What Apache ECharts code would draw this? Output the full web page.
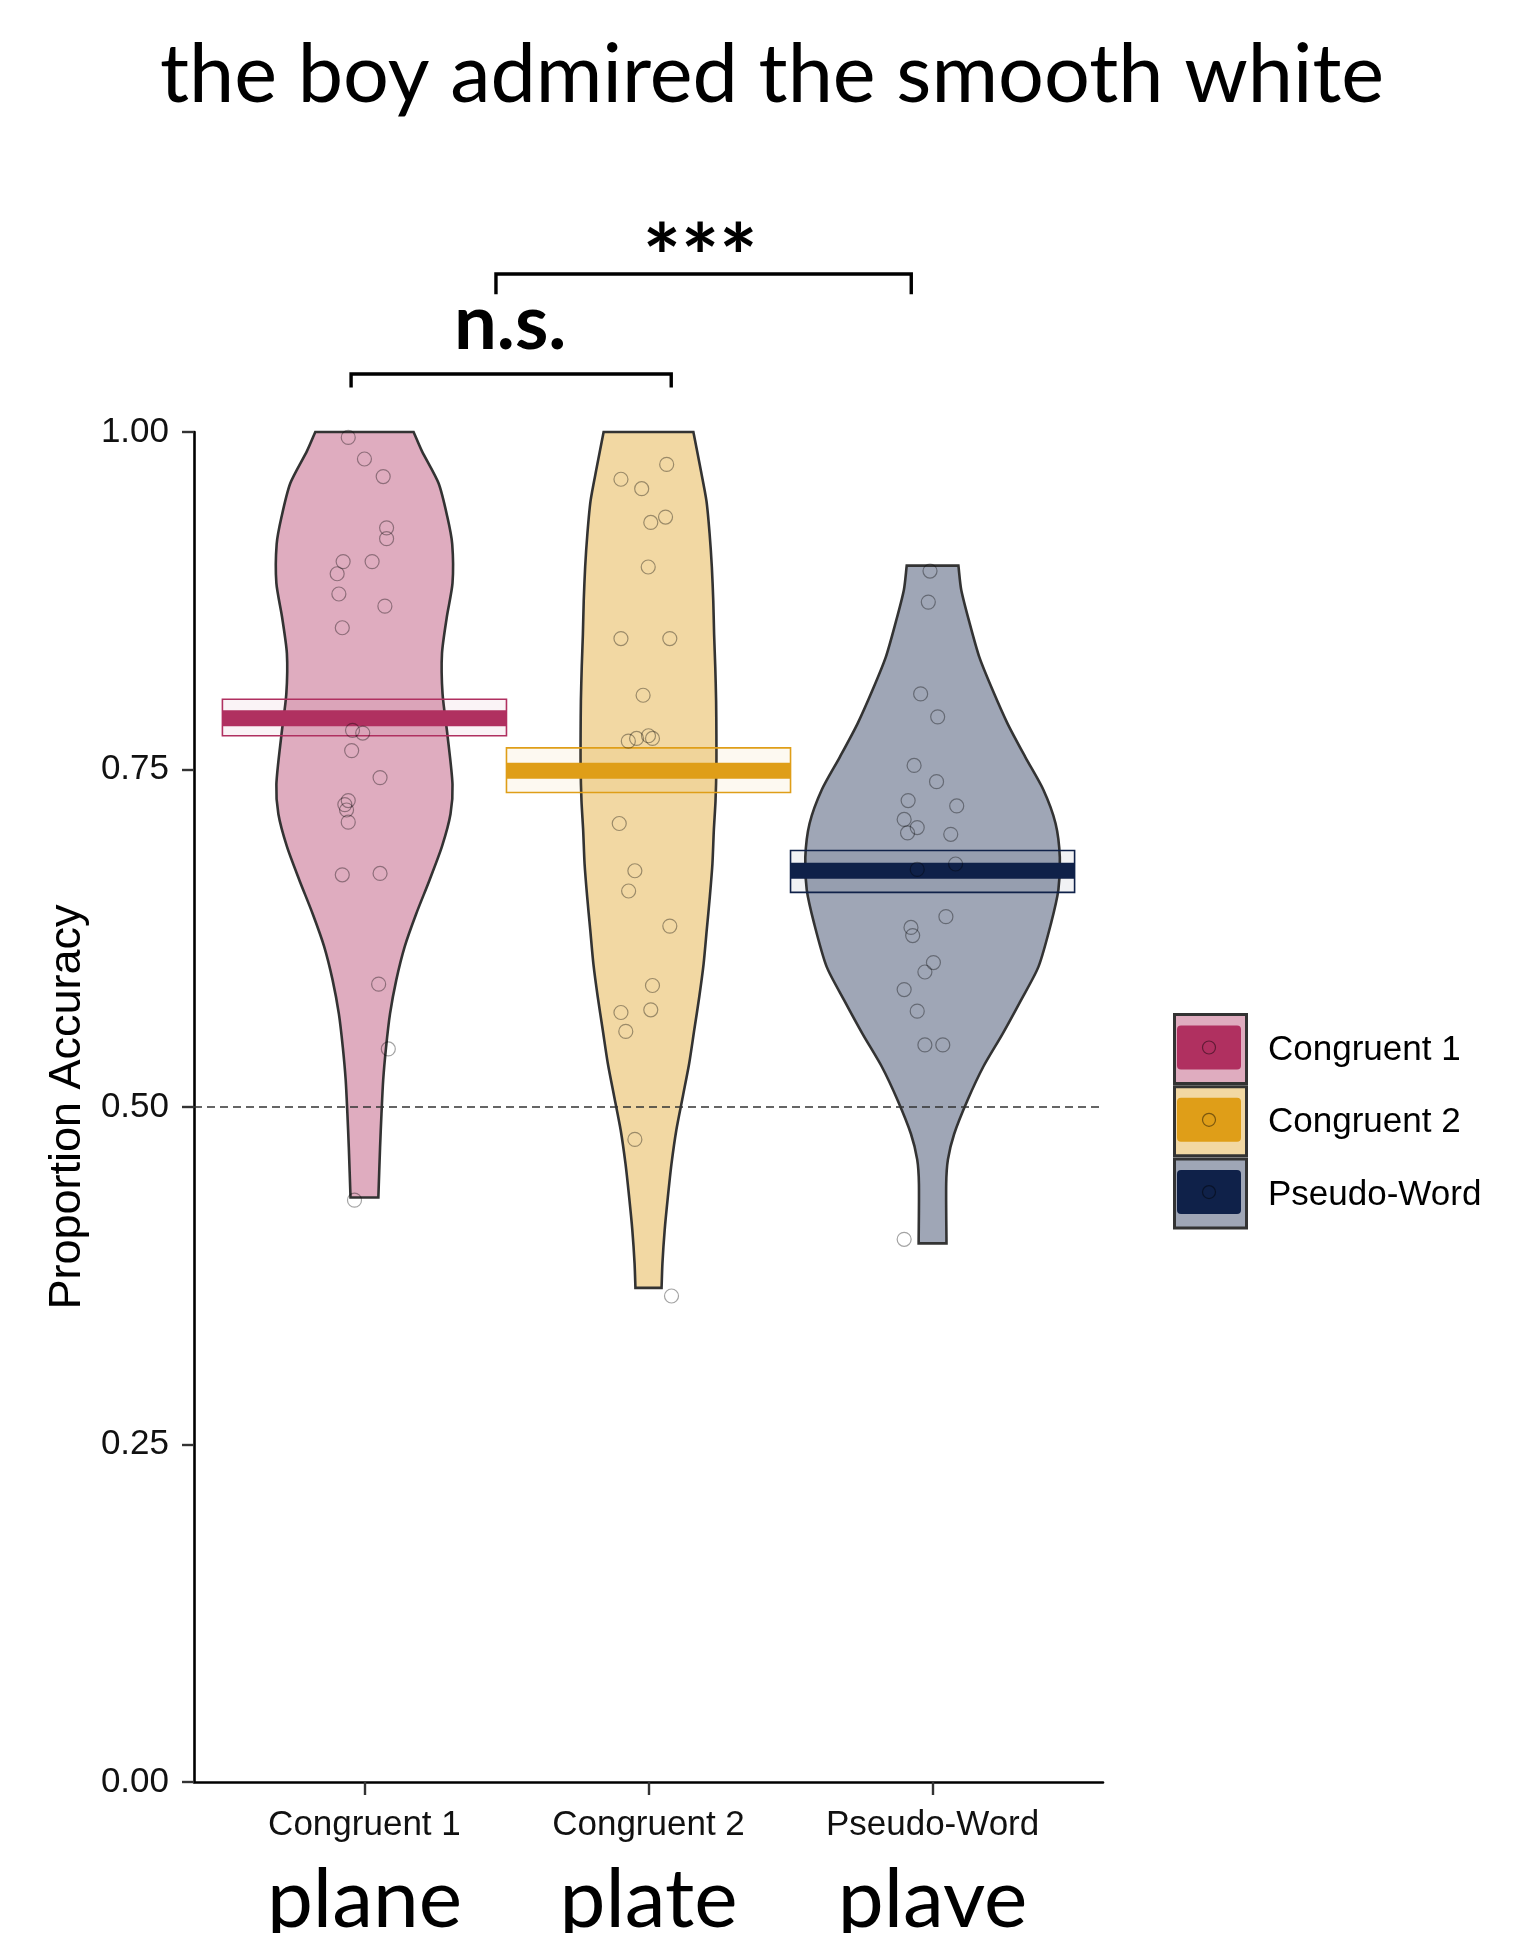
<!DOCTYPE html>
<html>
<head>
<meta charset="utf-8">
<script src="https://cdn.jsdelivr.net/npm/echarts@6/dist/echarts.min.js"></script>
<style>
  html, body { margin: 0; padding: 0; background: #ffffff; }
  #chart { width: 1514px; height: 1933px; }
</style>
</head>
<body>
<div id="chart"></div>
<script>
// ---- data ----
const sentence = 'the boy admired the smooth white';
const categories = ['Congruent 1', 'Congruent 2', 'Pseudo-Word'];
const targetWords = ['plane', 'plate', 'plave'];
const yTicks = [0, 0.25, 0.5, 0.75, 1];
const chanceLevel = 0.5;

// group colours (mean bar / line colour)
const groupColors = ['#B03060', '#DF9E18', '#0F2149'];

// violin outlines: accuracy value (top to bottom) and half width in x-axis units
const violinY1 = [1.000, 0.986, 0.962, 0.937, 0.917, 0.888, 0.863, 0.836, 0.806, 0.776, 0.739, 0.717, 0.693, 0.668, 0.643, 0.619, 0.594, 0.569, 0.544, 0.520, 0.495, 0.470, 0.433];
const violinW1 = [0.173, 0.202, 0.261, 0.292, 0.309, 0.310, 0.290, 0.273, 0.275, 0.292, 0.310, 0.303, 0.273, 0.229, 0.182, 0.142, 0.112, 0.090, 0.076, 0.066, 0.060, 0.055, 0.049];
const violinY2 = [1.000, 0.974, 0.949, 0.925, 0.900, 0.875, 0.850, 0.826, 0.801, 0.776, 0.752, 0.727, 0.705, 0.680, 0.656, 0.631, 0.606, 0.582, 0.557, 0.532, 0.508, 0.483, 0.458, 0.433, 0.409, 0.384, 0.366];
const violinW2 = [0.158, 0.182, 0.204, 0.215, 0.223, 0.228, 0.231, 0.235, 0.238, 0.239, 0.239, 0.236, 0.230, 0.225, 0.216, 0.205, 0.194, 0.179, 0.161, 0.143, 0.121, 0.098, 0.081, 0.068, 0.057, 0.049, 0.046];
const violinY3 = [0.901, 0.883, 0.858, 0.833, 0.809, 0.784, 0.759, 0.735, 0.710, 0.685, 0.661, 0.636, 0.604, 0.579, 0.554, 0.530, 0.505, 0.480, 0.461, 0.443, 0.399];
const violinW3 = [0.091, 0.101, 0.131, 0.165, 0.211, 0.264, 0.327, 0.390, 0.433, 0.448, 0.443, 0.417, 0.373, 0.311, 0.246, 0.179, 0.123, 0.076, 0.054, 0.048, 0.049];

// group means and confidence bands
const means = [0.788, 0.749, 0.675];
const ciLow = [0.775, 0.733, 0.659];
const ciHigh = [0.802, 0.766, 0.690];

// per-participant accuracy with horizontal jitter (x-axis units)
const accuracy1 = [0.996, 0.980, 0.967, 0.929, 0.921, 0.904, 0.904, 0.895, 0.880, 0.871, 0.855, 0.779, 0.777, 0.764, 0.744, 0.727, 0.724, 0.720, 0.711, 0.672, 0.673, 0.591, 0.543, 0.431];
const jitter1 = [-0.057, 0.000, 0.066, 0.078, 0.078, -0.075, 0.027, -0.096, -0.090, 0.072, -0.078, -0.042, -0.006, -0.045, 0.055, -0.057, -0.069, -0.063, -0.057, -0.078, 0.055, 0.050, 0.084, -0.035];
const accuracy2 = [0.976, 0.965, 0.958, 0.937, 0.933, 0.900, 0.847, 0.847, 0.805, 0.771, 0.773, 0.775, 0.773, 0.710, 0.675, 0.660, 0.634, 0.590, 0.570, 0.572, 0.556, 0.476, 0.360];
const jitter2 = [0.064, -0.097, -0.024, 0.060, 0.008, -0.001, -0.097, 0.075, -0.019, -0.071, -0.042, 0.000, 0.014, -0.103, -0.048, -0.070, 0.075, 0.014, -0.097, 0.008, -0.080, -0.048, 0.081];
const accuracy3 = [0.897, 0.874, 0.806, 0.789, 0.753, 0.741, 0.727, 0.723, 0.713, 0.707, 0.703, 0.702, 0.676, 0.680, 0.641, 0.633, 0.627, 0.607, 0.600, 0.587, 0.571, 0.546, 0.546, 0.402];
const jitter3 = [-0.009, -0.015, -0.042, 0.018, -0.065, 0.014, -0.086, 0.085, -0.100, -0.054, -0.088, 0.064, -0.054, 0.081, 0.047, -0.076, -0.070, 0.003, -0.027, -0.100, -0.054, -0.027, 0.036, -0.100];

// significance brackets: span on x, height, end of the short drops, label
const bracketStart = [0.953, 1.463];
const bracketEnd = [2.080, 2.925];
const bracketY = [1.043, 1.117];
const bracketDrop = [1.033, 1.102];
const bracketLabel = ['n.s.', '***'];
const bracketLabelX = [1.513, 2.182];
const bracketLabelY = [1.080, 1.127];
const bracketLabelSize = [76, 90];

// ---- helpers ----
function withAlpha(hex, a) {
  const n = parseInt(hex.slice(1), 16);
  return 'rgba(' + ((n >> 16) & 255) + ',' + ((n >> 8) & 255) + ',' + (n & 255) + ',' + a + ')';
}
const violinY = [violinY1, violinY2, violinY3];
const violinW = [violinW1, violinW2, violinW3];
const accuracy = [accuracy1, accuracy2, accuracy3];
const jitter = [jitter1, jitter2, jitter3];
const fills = groupColors.map(c => withAlpha(c, 0.4));

const chart = echarts.init(document.getElementById('chart'), null, { renderer: 'canvas' });

const xCommon = { type: 'value', min: 0.4, max: 3.6, gridIndex: 0, splitLine: { show: false } };

const series = [];

// violins: smooth sides, flat trimmed ends (end vertices doubled to keep the corners sharp)
series.push({
  type: 'custom',
  name: 'violins',
  z: 2,
  data: categories.map((c, i) => [i + 1, means[i]]),
  encode: { x: 0, y: 1 },
  renderItem: function (params, api) {
    const g = params.dataIndex;
    const cx = g + 1;
    const ys = violinY[g], ws = violinW[g];
    const left = ys.map((y, i) => api.coord([cx - ws[i], y]));
    const right = ys.map((y, i) => api.coord([cx + ws[i], y])).reverse();
    const sharpen = side => [side[0]].concat(side, [side[side.length - 1]]);
    return {
      type: 'polygon',
      shape: { points: sharpen(left).concat(sharpen(right)), smooth: 0.25 },
      style: { fill: fills[g], stroke: '#333333', lineWidth: 2.6 }
    };
  }
});

// chance line
series.push({
  type: 'line',
  name: 'chance',
  data: [],
  z: 3,
  markLine: {
    silent: true,
    symbol: 'none',
    z: 3,
    label: { show: false },
    lineStyle: { color: '#333333', type: [8, 5], width: 1.6 },
    data: [{ yAxis: chanceLevel }]
  }
});

// confidence bands and means
series.push({
  type: 'custom',
  name: 'means',
  z: 4,
  data: categories.map((c, i) => [i + 1, means[i], ciLow[i], ciHigh[i]]),
  encode: { x: 0, y: 1 },
  renderItem: function (params, api) {
    const g = params.dataIndex;
    const cx = api.value(0);
    const tl = api.coord([cx - 0.5, api.value(3)]);
    const br = api.coord([cx + 0.5, api.value(2)]);
    const m0 = api.coord([cx - 0.5, api.value(1)]);
    const m1 = api.coord([cx + 0.5, api.value(1)]);
    return {
      type: 'group',
      children: [
        {
          type: 'rect',
          shape: { x: tl[0], y: tl[1], width: br[0] - tl[0], height: br[1] - tl[1] },
          style: { fill: withAlpha(groupColors[g], 0.06), stroke: groupColors[g], lineWidth: 1.6 }
        },
        {
          type: 'line',
          shape: { x1: m0[0], y1: m0[1], x2: m1[0], y2: m1[1] },
          style: { stroke: groupColors[g], lineWidth: 16, lineCap: 'butt' }
        }
      ]
    };
  }
});

// participants
accuracy.forEach((arr, g) => {
  series.push({
    type: 'scatter',
    name: categories[g],
    z: 6,
    symbol: 'circle',
    symbolSize: 14,
    itemStyle: { color: 'rgba(0,0,0,0)', borderColor: 'rgba(0,0,0,0.45)', borderWidth: 1.2 },
    data: arr.map((v, i) => [g + 1 + jitter[g][i], v])
  });
});

// significance brackets
series.push({
  type: 'custom',
  name: 'brackets',
  z: 7,
  clip: false,
  data: bracketLabel.map((t, i) => [bracketStart[i], bracketY[i]]),
  encode: { x: 0, y: 1 },
  renderItem: function (params, api) {
    const i = params.dataIndex;
    const a = api.coord([bracketStart[i], bracketDrop[i]]);
    const b = api.coord([bracketStart[i], bracketY[i]]);
    const c = api.coord([bracketEnd[i], bracketY[i]]);
    const d = api.coord([bracketEnd[i], bracketDrop[i]]);
    const t = api.coord([bracketLabelX[i], bracketLabelY[i]]);
    return {
      type: 'group',
      children: [
        {
          type: 'polyline',
          shape: { points: [a, b, c, d] },
          style: { stroke: '#000000', lineWidth: 3.4, fill: null, lineJoin: 'miter' }
        },
        {
          type: 'text',
          x: t[0], y: t[1],
          style: {
            text: bracketLabel[i],
            align: 'center', verticalAlign: 'middle',
            font: 'bold ' + bracketLabelSize[i] + 'px Lato', fill: '#000000'
          }
        }
      ]
    };
  }
});

// legend keys built from the group list
const legendX = 1173, legendTop = 1013, keyW = 72, keyH = 69, keyStep = 72.3;
const legendGraphics = [];
categories.forEach((name, g) => {
  const y0 = legendTop + g * keyStep;
  legendGraphics.push({
    type: 'rect', left: legendX, top: y0,
    shape: { width: keyW, height: keyH },
    style: { fill: fills[g], stroke: '#333333', lineWidth: 3 }
  });
  legendGraphics.push({
    type: 'rect', left: legendX + 4, top: y0 + 12.5,
    shape: { width: keyW - 8, height: keyH - 25, r: 4 },
    style: { fill: groupColors[g] }
  });
  legendGraphics.push({
    type: 'circle', x: legendX + keyW / 2, y: y0 + keyH / 2,
    shape: { cx: 0, cy: 0, r: 6.5 },
    style: { fill: null, stroke: 'rgba(0,0,0,0.45)', lineWidth: 1.2 }
  });
  legendGraphics.push({
    type: 'text', x: legendX + keyW + 23, y: y0 + keyH / 2 + 3,
    style: { text: name, font: '35px "Liberation Sans"', fill: '#000000', verticalAlign: 'middle', align: 'left' }
  });
});

const option = {
  backgroundColor: '#ffffff',
  animation: false,
  title: {
    text: sentence,
    left: 767,
    top: 30,
    textAlign: 'center',
    textStyle: { fontFamily: 'Lato', fontSize: 81, fontWeight: 'normal', color: '#000000' }
  },
  grid: { left: 194, right: 411, top: 432, bottom: 151, containLabel: false, outerBoundsMode: 'none' },
  xAxis: [
    Object.assign({}, xCommon, {
      position: 'bottom',
      axisLine: { show: true, onZero: false, lineStyle: { color: '#000000', width: 2.6 } },
      axisTick: { show: true, length: 13, customValues: [1, 2, 3], lineStyle: { color: '#333333', width: 2.4 } },
      axisLabel: {
        customValues: [1, 2, 3],
        margin: 26,
        formatter: v => categories[Math.round(v) - 1],
        fontFamily: 'Liberation Sans', fontSize: 35, color: '#111111'
      }
    }),
    Object.assign({}, xCommon, {
      position: 'bottom',
      axisLine: { show: false },
      axisTick: { show: false },
      axisLabel: {
        customValues: [1, 2, 3],
        margin: 78,
        formatter: v => targetWords[Math.round(v) - 1],
        fontFamily: 'Lato', fontSize: 82, color: '#000000'
      }
    })
  ],
  yAxis: {
    type: 'value',
    min: yTicks[0],
    max: yTicks[yTicks.length - 1],
    interval: 0.25,
    splitLine: { show: false },
    axisLine: { show: true, lineStyle: { color: '#000000', width: 2.6 } },
    axisTick: { show: true, length: 12, lineStyle: { color: '#333333', width: 2.4 } },
    axisLabel: {
      margin: 25,
      formatter: v => v.toFixed(2),
      fontFamily: 'Liberation Sans', fontSize: 35, color: '#111111'
    },
    name: 'Proportion Accuracy',
    nameLocation: 'middle',
    nameGap: 100,
    nameTextStyle: { fontFamily: 'Liberation Sans', fontSize: 45, color: '#000000' }
  },
  graphic: legendGraphics,
  series: series
};

chart.setOption(option);
</script>
</body>
</html>
